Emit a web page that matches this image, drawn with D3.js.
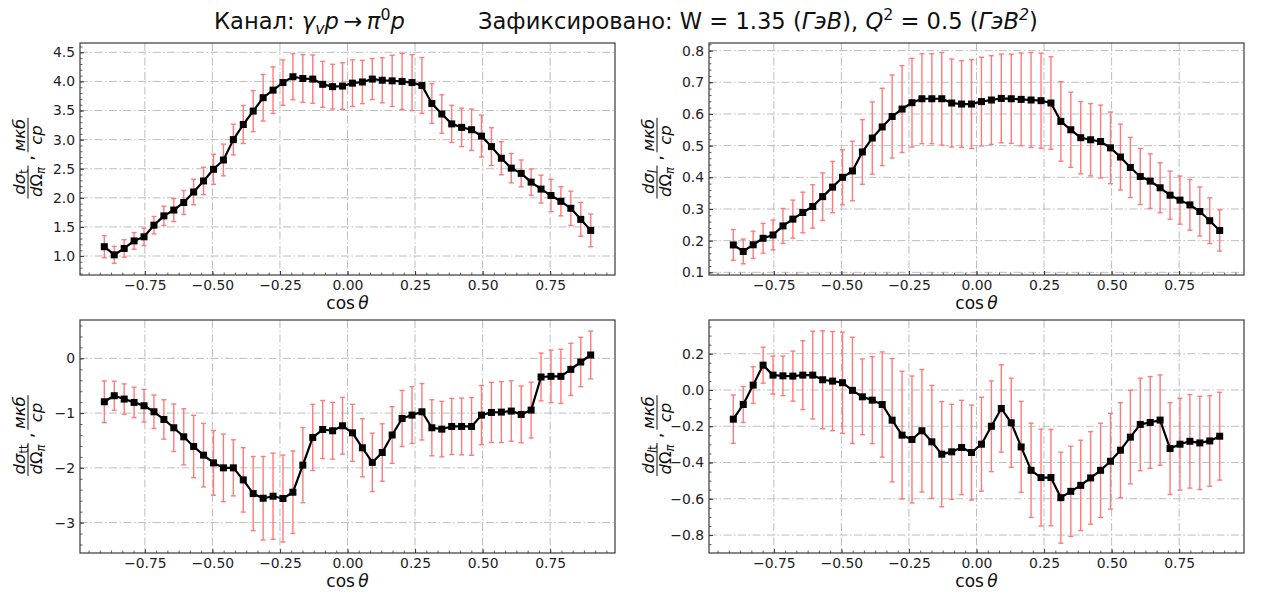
<!DOCTYPE html>
<html><head><meta charset="utf-8">
<script src="https://cdn.jsdelivr.net/npm/d3@7"></script>
<style>
html,body{margin:0;padding:0;background:#fff;}
svg{display:block;font-family:"DejaVu Sans",sans-serif;}
</style></head><body>
<svg id="chart" width="1262" height="594"></svg>
<script>
// cos(theta) bins: 50 points from -0.9 to 0.9
const cosTheta = [
  -0.9000, -0.8633, -0.8265, -0.7898, -0.7531, -0.7163, -0.6796, -0.6429, -0.6061, -0.5694,
  -0.5327, -0.4959, -0.4592, -0.4224, -0.3857, -0.3490, -0.3122, -0.2755, -0.2388, -0.2020,
  -0.1653, -0.1286, -0.0918, -0.0551, -0.0184, 0.0184, 0.0551, 0.0918, 0.1286, 0.1653,
  0.2020, 0.2388, 0.2755, 0.3122, 0.3490, 0.3857, 0.4224, 0.4592, 0.4959, 0.5327,
  0.5694, 0.6061, 0.6429, 0.6796, 0.7163, 0.7531, 0.7898, 0.8265, 0.8633, 0.9000
];

// structure functions (мкб/ср) and their uncertainties
const sigmaT = [
  1.16, 1.02, 1.13, 1.26, 1.33, 1.53, 1.69, 1.79, 1.92, 2.10,
  2.29, 2.49, 2.65, 3.00, 3.26, 3.49, 3.72, 3.85, 3.98, 4.08,
  4.05, 4.04, 3.95, 3.91, 3.92, 3.97, 3.99, 4.04, 4.02, 4.01,
  4.00, 3.98, 3.93, 3.62, 3.44, 3.27, 3.21, 3.17, 3.06, 2.88,
  2.68, 2.51, 2.42, 2.27, 2.15, 2.04, 1.94, 1.82, 1.63, 1.44
];
const sigmaTErr = [
  0.19, 0.146, 0.15, 0.143, 0.15, 0.15, 0.166, 0.198, 0.206, 0.218,
  0.235, 0.258, 0.272, 0.264, 0.327, 0.352, 0.40, 0.40, 0.39, 0.395,
  0.41, 0.415, 0.395, 0.384, 0.40, 0.40, 0.372, 0.352, 0.387, 0.44,
  0.48, 0.48, 0.48, 0.34, 0.33, 0.318, 0.33, 0.355, 0.36, 0.324,
  0.284, 0.252, 0.23, 0.226, 0.24, 0.278, 0.25, 0.295, 0.29, 0.28
];

const sigmaL = [
  0.1865, 0.166, 0.187, 0.2075, 0.218, 0.2465, 0.268, 0.289, 0.308, 0.339,
  0.369, 0.40, 0.42, 0.48, 0.524, 0.559, 0.592, 0.6155, 0.6355, 0.648,
  0.648, 0.648, 0.6345, 0.6313, 0.6313, 0.639, 0.644, 0.649, 0.648, 0.646,
  0.644, 0.642, 0.6345, 0.5765, 0.55, 0.525, 0.5185, 0.513, 0.493, 0.464,
  0.431, 0.4026, 0.388, 0.367, 0.3436, 0.328, 0.313, 0.292, 0.263, 0.232
];
const sigmaLErr = [
  0.0485, 0.039, 0.043, 0.047, 0.047, 0.055, 0.060, 0.064, 0.0685, 0.075,
  0.081, 0.087, 0.094, 0.102, 0.114, 0.122, 0.131, 0.137, 0.14, 0.142,
  0.142, 0.146, 0.139, 0.137, 0.14, 0.14, 0.14, 0.14, 0.141, 0.1465,
  0.15, 0.15, 0.146, 0.1255, 0.1186, 0.114, 0.114, 0.115, 0.113, 0.104,
  0.095, 0.0886, 0.086, 0.079, 0.076, 0.076, 0.080, 0.0775, 0.072, 0.065
];

const sigmaTT = [
  -0.793, -0.683, -0.744, -0.805, -0.866, -0.976, -1.116, -1.268, -1.433, -1.61,
  -1.768, -1.909, -2.0, -2.0, -2.22, -2.47, -2.555, -2.518, -2.56, -2.445,
  -1.95, -1.445, -1.30, -1.323, -1.232, -1.36, -1.634, -1.90, -1.72, -1.40,
  -1.098, -1.037, -0.976, -1.268, -1.293, -1.244, -1.244, -1.244, -1.037, -0.988,
  -0.982, -0.963, -1.024, -0.945, -0.341, -0.329, -0.329, -0.201, -0.067, 0.061
];
const sigmaTTErr = [
  0.38, 0.265, 0.277, 0.277, 0.296, 0.305, 0.36, 0.433, 0.512, 0.57,
  0.58, 0.59, 0.616, 0.512, 0.588, 0.677, 0.762, 0.787, 0.793, 0.753,
  0.686, 0.604, 0.53, 0.518, 0.518, 0.52, 0.53, 0.533, 0.524, 0.518,
  0.512, 0.518, 0.515, 0.512, 0.506, 0.512, 0.518, 0.527, 0.54, 0.549,
  0.555, 0.552, 0.518, 0.509, 0.436, 0.479, 0.494, 0.476, 0.451, 0.436
];

const sigmaLT = [
  -0.161, -0.080, 0.027, 0.137, 0.082, 0.078, 0.0766, 0.082, 0.082, 0.0564,
  0.049, 0.040, -0.002, -0.0376, -0.056, -0.08, -0.1665, -0.249, -0.273, -0.225,
  -0.286, -0.354, -0.341, -0.317, -0.345, -0.299, -0.20, -0.102, -0.181, -0.314,
  -0.443, -0.483, -0.483, -0.594, -0.559, -0.526, -0.485, -0.443, -0.393, -0.332,
  -0.260, -0.19, -0.179, -0.166, -0.323, -0.299, -0.283, -0.292, -0.281, -0.255
];
const sigmaLTErr = [
  0.1335, 0.0994, 0.101, 0.0994, 0.105, 0.109, 0.138, 0.19, 0.242, 0.27,
  0.273, 0.279, 0.293, 0.209, 0.24, 0.29, 0.34, 0.352, 0.35, 0.338,
  0.311, 0.29, 0.262, 0.26, 0.262, 0.259, 0.25, 0.241, 0.246, 0.251,
  0.26, 0.267, 0.266, 0.251, 0.249, 0.249, 0.255, 0.26, 0.264, 0.262,
  0.258, 0.255, 0.253, 0.249, 0.253, 0.253, 0.258, 0.257, 0.25, 0.242
];

// tick values
const xTickValues = [-0.75, -0.5, -0.25, 0, 0.25, 0.5, 0.75];
const yTicksT = [1.0, 1.5, 2.0, 2.5, 3.0, 3.5, 4.0, 4.5];
const yTicksL = [0.1, 0.2, 0.3, 0.4, 0.5, 0.6, 0.7, 0.8];
const yTicksTT = [-3, -2, -1, 0];
const yTicksLT = [-0.8, -0.6, -0.4, -0.2, 0.0, 0.2];

const svg = d3.select("#chart");
const FONT_TICK = 13.9;
const FONT_TITLE = 22.6;
const GRID_COLOR = "#bdbdbd";
const SPINE_COLOR = "#3a3a3a";
const ERR_COLOR = "#ff7b7b";

const fmtMinus = (digits) => (d) => {
  const s = d3.format("." + digits + "f")(Math.abs(d) < 1e-9 ? 0 : d);
  return s.replace("-", "\u2212");
};

// helper that writes rich text (italic, sub/superscripts) into a <text>
function richText(textSel, parts, baseSize) {
  let shift = 0;
  parts.forEach(p => {
    const ts = textSel.append("tspan").text(p.t);
    let target = 0, size = baseSize;
    if (p.sub) { target = baseSize * 0.22; size = baseSize * 0.7; }
    if (p.sup) { target = -baseSize * 0.42; size = baseSize * 0.7; }
    ts.attr("dy", target - shift).attr("font-size", size);
    if (p.italic) ts.attr("font-style", "italic");
    shift = target;
  });
}

// title
const title1 = svg.append("text").attr("x", 214).attr("y", 29)
  .attr("font-size", FONT_TITLE).attr("fill", "#111");
richText(title1, [
  {t: "Канал: "}, {t: "γ", italic: true}, {t: "v", italic: true, sub: true},
  {t: "p", italic: true}, {t: "\u2009→\u2009"}, {t: "π", italic: true},
  {t: "0", sup: true}, {t: "p", italic: true}
], FONT_TITLE);
const title2 = svg.append("text").attr("x", 478).attr("y", 29)
  .attr("font-size", FONT_TITLE).attr("fill", "#111");
richText(title2, [
  {t: "Зафиксировано: W = 1.35 ("}, {t: "ГэВ", italic: true}, {t: "), "},
  {t: "Q", italic: true}, {t: "2", sup: true}, {t: " = 0.5 ("},
  {t: "ГэВ", italic: true}, {t: "2", sup: true, italic: true}, {t: ")"}
], FONT_TITLE);

const panels = [
  {vals: sigmaT, errs: sigmaTErr, x0: 80, x1: 615, y0: 43, y1: 275,
   yDomain: [0.674, 4.66], yTicks: yTicksT, yMinor: 0.1, fmt: fmtMinus(1),
   sub: [{t: "t"}], labelX: 28},
  {vals: sigmaL, errs: sigmaLErr, x0: 709, x1: 1244, y0: 43, y1: 275,
   yDomain: [0.0916, 0.824], yTicks: yTicksL, yMinor: 0.02, fmt: fmtMinus(1),
   sub: [{t: "l", italic: true}], labelX: 657},
  {vals: sigmaTT, errs: sigmaTTErr, x0: 80, x1: 615, y0: 320, y1: 553,
   yDomain: [-3.555, 0.70], yTicks: yTicksTT, yMinor: 0.2, fmt: fmtMinus(0),
   sub: [{t: "tt"}], labelX: 28},
  {vals: sigmaLT, errs: sigmaLTErr, x0: 709, x1: 1244, y0: 320, y1: 553,
   yDomain: [-0.899, 0.386], yTicks: yTicksLT, yMinor: 0.05, fmt: fmtMinus(1),
   sub: [{t: "l", italic: true}, {t: "t"}], labelX: 657}
];

panels.forEach(p => {
  const x = d3.scaleLinear().domain([-0.99, 0.99]).range([p.x0, p.x1]);
  const y = d3.scaleLinear().domain(p.yDomain).range([p.y1, p.y0]);
  const g = svg.append("g");

  // grid (dash-dot)
  g.append("g").selectAll("line").data(xTickValues).join("line")
    .attr("x1", d => x(d)).attr("x2", d => x(d))
    .attr("y1", p.y0).attr("y2", p.y1)
    .attr("stroke", GRID_COLOR).attr("stroke-width", 1)
    .attr("stroke-dasharray", "8,2.5,1.5,2.5");
  g.append("g").selectAll("line").data(p.yTicks).join("line")
    .attr("x1", p.x0).attr("x2", p.x1)
    .attr("y1", d => y(d)).attr("y2", d => y(d))
    .attr("stroke", GRID_COLOR).attr("stroke-width", 1)
    .attr("stroke-dasharray", "8,2.5,1.5,2.5");

  // minor ticks (inward)
  const xMinorStep = 0.25 / 6;
  const xMinor = d3.range(-0.75 - xMinorStep * 5, 0.99, xMinorStep)
    .filter(v => v > -0.99 && v < 0.99);
  const yMinor = d3.range(Math.ceil(p.yDomain[0] / p.yMinor) * p.yMinor, p.yDomain[1], p.yMinor);
  g.append("g").attr("transform", `translate(0,${p.y1})`)
    .call(d3.axisBottom(x).tickValues(xMinor).tickSize(-2.5).tickFormat(""))
    .call(a => a.select(".domain").remove())
    .call(a => a.selectAll("line").attr("stroke", SPINE_COLOR).attr("stroke-width", 0.8));
  g.append("g").attr("transform", `translate(${p.x0},0)`)
    .call(d3.axisLeft(y).tickValues(yMinor).tickSize(-2.5).tickFormat(""))
    .call(a => a.select(".domain").remove())
    .call(a => a.selectAll("line").attr("stroke", SPINE_COLOR).attr("stroke-width", 0.8));

  // major axes
  g.append("g").attr("transform", `translate(0,${p.y1})`)
    .call(d3.axisBottom(x).tickValues(xTickValues).tickSize(-4).tickPadding(5)
      .tickFormat(fmtMinus(2)))
    .call(a => a.select(".domain").remove())
    .call(a => a.selectAll("line").attr("stroke", SPINE_COLOR).attr("stroke-width", 1))
    .call(a => a.selectAll("text").attr("font-size", FONT_TICK)
      .attr("font-family", "DejaVu Sans").attr("fill", "#222"));
  g.append("g").attr("transform", `translate(${p.x0},0)`)
    .call(d3.axisLeft(y).tickValues(p.yTicks).tickSize(-4).tickPadding(5)
      .tickFormat(p.fmt))
    .call(a => a.select(".domain").remove())
    .call(a => a.selectAll("line").attr("stroke", SPINE_COLOR).attr("stroke-width", 1))
    .call(a => a.selectAll("text").attr("font-size", FONT_TICK)
      .attr("font-family", "DejaVu Sans").attr("fill", "#222"));

  // error bars
  const pts = cosTheta.map((c, i) => ({c, v: p.vals[i], e: p.errs[i]}));
  const eb = g.append("g").attr("stroke", ERR_COLOR).attr("stroke-width", 1.4);
  eb.selectAll("line.v").data(pts).join("line").attr("class", "v")
    .attr("x1", d => x(d.c)).attr("x2", d => x(d.c))
    .attr("y1", d => y(d.v - d.e)).attr("y2", d => y(d.v + d.e));
  eb.selectAll("line.top").data(pts).join("line").attr("class", "top")
    .attr("x1", d => x(d.c) - 2.5).attr("x2", d => x(d.c) + 2.5)
    .attr("y1", d => y(d.v + d.e)).attr("y2", d => y(d.v + d.e));
  eb.selectAll("line.bot").data(pts).join("line").attr("class", "bot")
    .attr("x1", d => x(d.c) - 2.5).attr("x2", d => x(d.c) + 2.5)
    .attr("y1", d => y(d.v - d.e)).attr("y2", d => y(d.v - d.e));

  // line + square markers
  g.append("path").datum(pts)
    .attr("fill", "none").attr("stroke", "#000").attr("stroke-width", 2.2)
    .attr("stroke-linejoin", "round")
    .attr("d", d3.line().x(d => x(d.c)).y(d => y(d.v)));
  g.append("g").selectAll("rect").data(pts).join("rect")
    .attr("x", d => x(d.c) - 3.5).attr("y", d => y(d.v) - 3.5)
    .attr("width", 7).attr("height", 7).attr("fill", "#000");

  // frame
  g.append("rect").attr("x", p.x0).attr("y", p.y0)
    .attr("width", p.x1 - p.x0).attr("height", p.y1 - p.y0)
    .attr("fill", "none").attr("stroke", SPINE_COLOR).attr("stroke-width", 1.2);

  // x label
  const xl = g.append("text").attr("x", (p.x0 + p.x1) / 2).attr("y", p.y1 + 34)
    .attr("text-anchor", "middle").attr("font-size", 17).attr("fill", "#111");
  richText(xl, [{t: "cos\u2009"}, {t: "θ", italic: true}], 17);

  // y label: dσ/dΩπ , мкб/ср (stacked fractions, rotated)
  const cy = (p.y0 + p.y1) / 2;
  const lg = g.append("g").attr("transform", `translate(${p.labelX},${cy}) rotate(-90)`)
    .attr("fill", "#111");
  const FS = 16.5;
  function fraction(cx, num, den, size) {
    const n = lg.append("text").attr("x", cx).attr("y", -3.5)
      .attr("text-anchor", "middle").attr("font-size", size);
    richText(n, num, size);
    const dd = lg.append("text").attr("x", cx).attr("y", 13.5)
      .attr("text-anchor", "middle").attr("font-size", size);
    richText(dd, den, size);
    const w = Math.max(n.node().getBBox().width, dd.node().getBBox().width) + 2;
    lg.append("line").attr("x1", cx - w / 2).attr("x2", cx + w / 2)
      .attr("y1", 0).attr("y2", 0).attr("stroke", "#111").attr("stroke-width", 1);
  }
  fraction(-23,
    [{t: "dσ", italic: true}].concat(p.sub.map(s => ({t: s.t, italic: s.italic, sub: true}))),
    [{t: "d", italic: true}, {t: "Ω"}, {t: "π", italic: true, sub: true}], FS);
  lg.append("text").attr("x", 1).attr("y", 5).attr("text-anchor", "middle")
    .attr("font-size", 18).text(",");
  fraction(24, [{t: "мкб", italic: true}], [{t: "ср", italic: true}], FS);
});
</script>
</body></html>
